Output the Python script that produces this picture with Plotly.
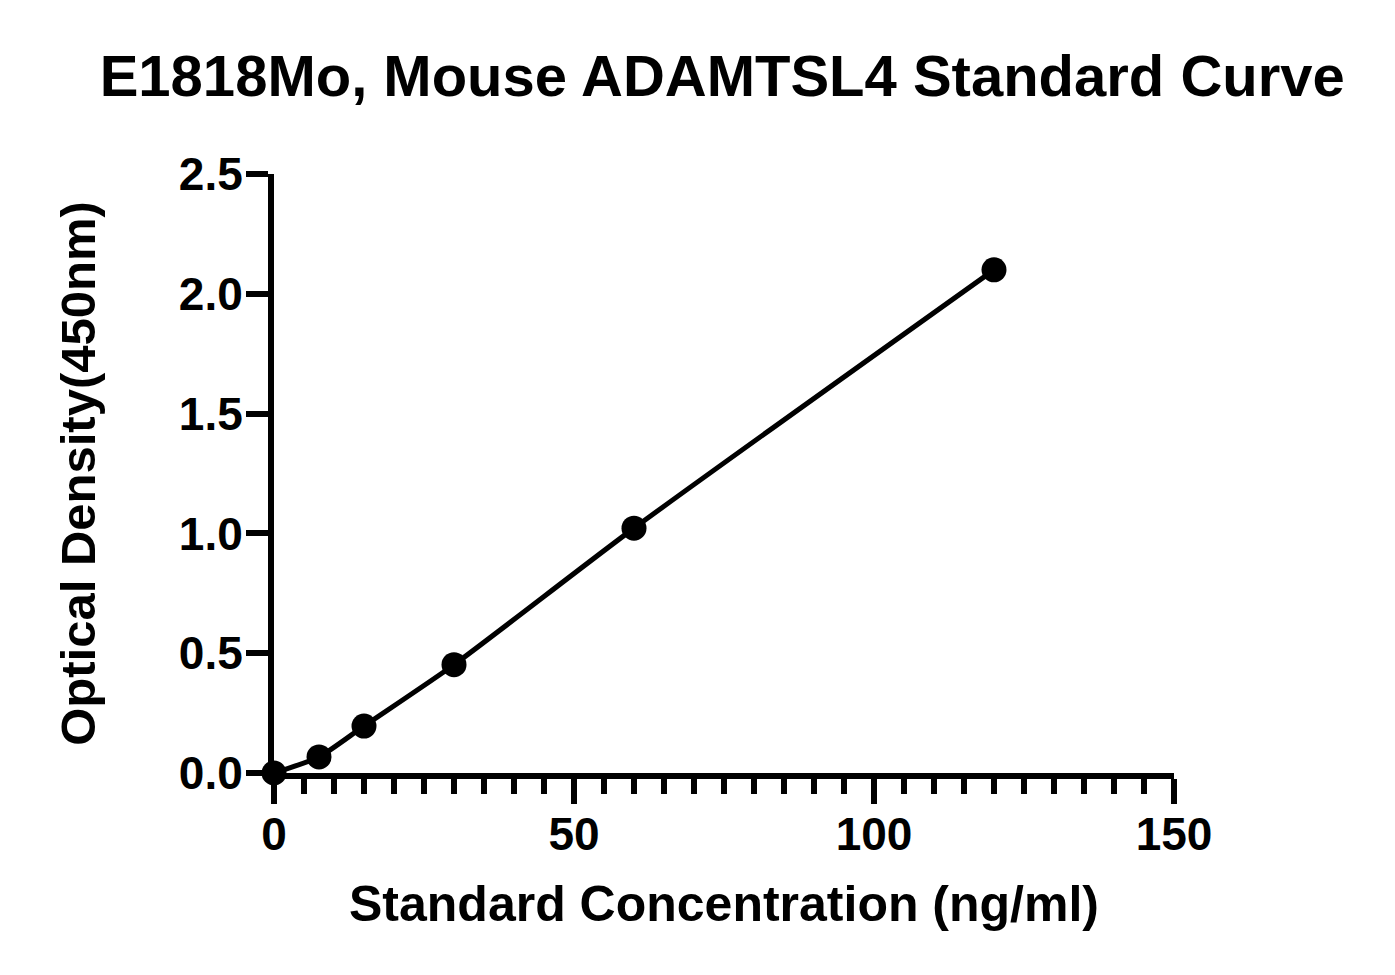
import plotly.graph_objects as go

# standard curve points
concentration = [0, 7.5, 15, 30, 60, 120]
optical_density = [0.0, 0.067, 0.196, 0.452, 1.022, 2.10]

x_ticks = [0, 50, 100, 150]
y_ticks = [0.0, 0.5, 1.0, 1.5, 2.0, 2.5]
y_tick_text = ["0.0", "0.5", "1.0", "1.5", "2.0", "2.5"]

font_family = "Liberation Sans, Arial, sans-serif"

fig = go.Figure()

fig.add_trace(go.Scatter(
    x=concentration,
    y=optical_density,
    mode="lines+markers",
    line=dict(color="black", width=5, shape="spline", smoothing=0.6),
    marker=dict(color="black", size=25),
    cliponaxis=False,
    showlegend=False,
))

fig.update_layout(
    width=1395,
    height=975,
    paper_bgcolor="white",
    plot_bgcolor="white",
    margin=dict(l=266, r=229, t=166, b=210),
    title=dict(
        text="<b>E1818Mo, Mouse ADAMTSL4 Standard Curve</b>",
        x=0.512,
        xanchor="center",
        y=0.931,
        yanchor="middle",
        font=dict(family=font_family, size=58, color="black"),
    ),
)

fig.update_xaxes(
    range=[0, 150],
    tickvals=x_ticks,
    ticks="outside",
    ticklen=25,
    tickwidth=6,
    tickcolor="black",
    showline=True,
    linecolor="black",
    linewidth=6,
    showgrid=False,
    zeroline=False,
    ticklabelstandoff=-9,
    tickfont=dict(family=font_family, size=46, color="black", weight="bold"),
    minor=dict(dtick=5, ticks="outside", ticklen=15, tickwidth=6, tickcolor="black"),
    title=dict(
        text="<b>Standard Concentration (ng/ml)</b>",
        font=dict(family=font_family, size=50, color="black"),
        standoff=29,
    ),
)

fig.update_yaxes(
    range=[0, 2.5],
    tickvals=y_ticks,
    ticktext=y_tick_text,
    ticks="outside",
    ticklen=22,
    tickwidth=6,
    tickcolor="black",
    showline=True,
    linecolor="black",
    linewidth=6,
    showgrid=False,
    zeroline=False,
    ticklabelstandoff=-6,
    tickfont=dict(family=font_family, size=46, color="black", weight="bold"),
    title=dict(
        text="<b>Optical Density(450nm)</b>",
        font=dict(family=font_family, size=49, color="black"),
        standoff=70,
    ),
)

fig.write_html("out.html")
